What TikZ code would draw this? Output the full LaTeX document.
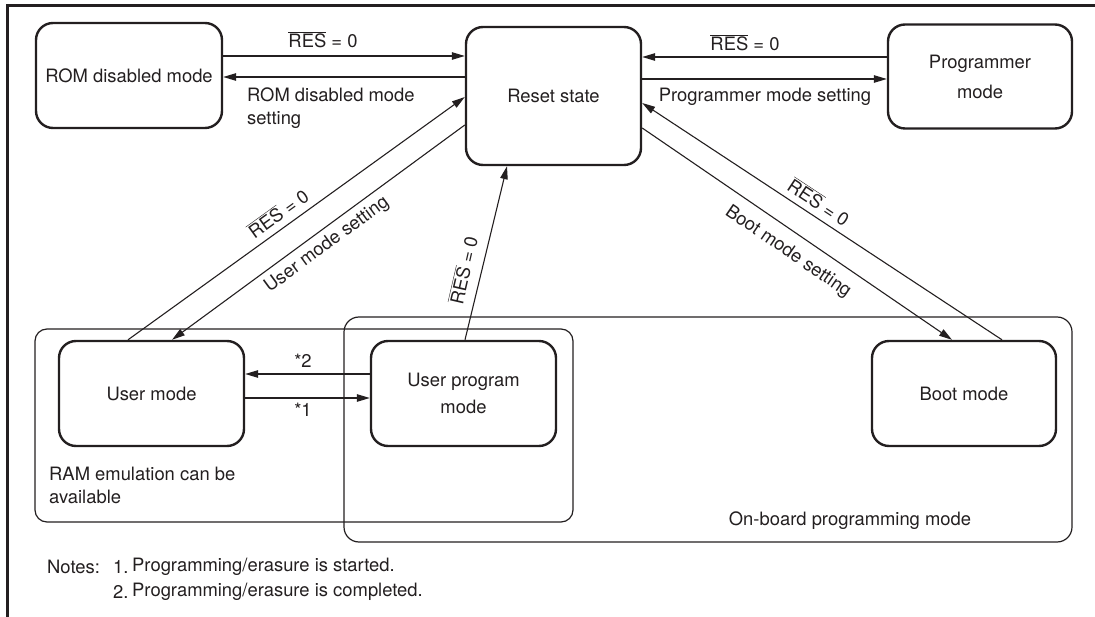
\documentclass[tikz,border=0pt]{standalone}
\usepackage{fontspec}
\setmainfont{TeX Gyre Heros}
\usetikzlibrary{arrows.meta}
\definecolor{ink}{RGB}{35,31,32}
\newcommand\resbar{$\overline{\mbox{RES}}$}
\begin{document}
\begin{tikzpicture}[x=1pt,y=-1pt, font=\fontsize{18.4}{23}\selectfont,
 state/.style={draw=ink, line width=2.4pt, rounded corners=17pt, inner sep=0pt, align=center, text=ink},
 grp/.style={draw=ink, line width=1.2pt, inner sep=0pt},
 conn/.style={draw=ink, line width=1.1pt, -{Triangle[length=13pt,width=7.5pt]}},
 lbl/.style={inner sep=0pt, text=ink}]
\useasboundingbox (0,0) rectangle (1095,617);
\draw[ink, line width=3pt] (7,617) -- (7,6) -- (1095,6);

% groups
\node[grp, rounded corners=12pt, minimum width=538pt, minimum height=193pt] (ram) at (304,425.5) {};
\node[grp, rounded corners=15pt, minimum width=728pt, minimum height=225pt] (onboard) at (708,429.5) {};

% states
\node[state, minimum width=186pt, minimum height=105pt] (rom) at (129,75.5) {ROM disabled mode};
\node[state, minimum width=175pt, minimum height=138pt] (reset) at (553.5,96) {Reset state};
\node[state, minimum width=184pt, minimum height=104pt] (prog) at (980,76.5) {Programmer\\[7pt]mode};
\node[state, minimum width=185pt, minimum height=105pt] (user) at (151.5,393.5) {User mode};
\node[state, minimum width=185pt, minimum height=105pt] (upm) at (463.5,393.5) {User program\\[4pt]mode};
\node[state, minimum width=184pt, minimum height=105pt] (boot) at (964,393.5) {Boot mode};

% connectors
\draw[conn] (rom.east |- 0,56) -- (reset.west |- 0,56);
\draw[conn] (reset.west |- 0,77) -- (rom.east |- 0,77);
\draw[conn] (prog.west |- 0,57) -- (reset.east |- 0,57);
\draw[conn] (reset.east |- 0,79) -- (prog.west |- 0,79);
\draw[conn] (user.north -| 128,0) -- (reset.west |- 0,97);
\draw[conn] (reset.west |- 0,125) -- (user.north -| 172,0);
\draw[conn] (upm.north -| 465,0) -- (reset.south -| 507,0);
\draw[conn] (reset.east |- 0,128) -- (boot.north -| 952,0);
\draw[conn] (boot.north -| 1002,0) -- (reset.east |- 0,103);
\draw[conn] (upm.west |- 0,374) -- (user.east |- 0,374);
\draw[conn] (user.east |- 0,398) -- (upm.west |- 0,398);

% labels
\node[lbl] (l1) at (323,40) {\resbar{} = 0};
\node[lbl, anchor=west, align=left] (l2) at (247,108.5) {ROM disabled mode\\setting};
\node[lbl] (l3) at (745,43) {\resbar{} = 0};
\node[lbl] (l4) at (765,97) {Programmer mode setting};
\node[lbl, rotate=35.8] (l5) at (278,213) {\resbar{} = 0};
\node[lbl, rotate=36.3] (l6) at (327,245) {User mode setting};
\node[lbl, rotate=77] (l7) at (463,270) {\resbar{} = 0};
\node[lbl, rotate=-33.4] (l8) at (819,202) {\resbar{} = 0};
\node[lbl, rotate=-34.4] (l9) at (788,252) {Boot mode setting};
\node[lbl] (l10) at (303,361) {*2};
\node[lbl] (l11) at (303,410) {*1};
\node[lbl, anchor=west, align=left] (l12) at (49,485.5) {RAM emulation can be\\available};
\node[lbl] (l13) at (850,521) {On-board programming mode};
\node[lbl, anchor=west] (n0) at (47,567) {Notes:};
\node[lbl, anchor=west] (n1) at (113,567) {1.};
\node[lbl, anchor=west] (n1t) at (132,567) {Programming/erasure is started.};
\node[lbl, anchor=west] (n2) at (113,592) {2.};
\node[lbl, anchor=west] (n2t) at (132,592) {Programming/erasure is completed.};
\end{tikzpicture}
\end{document}
